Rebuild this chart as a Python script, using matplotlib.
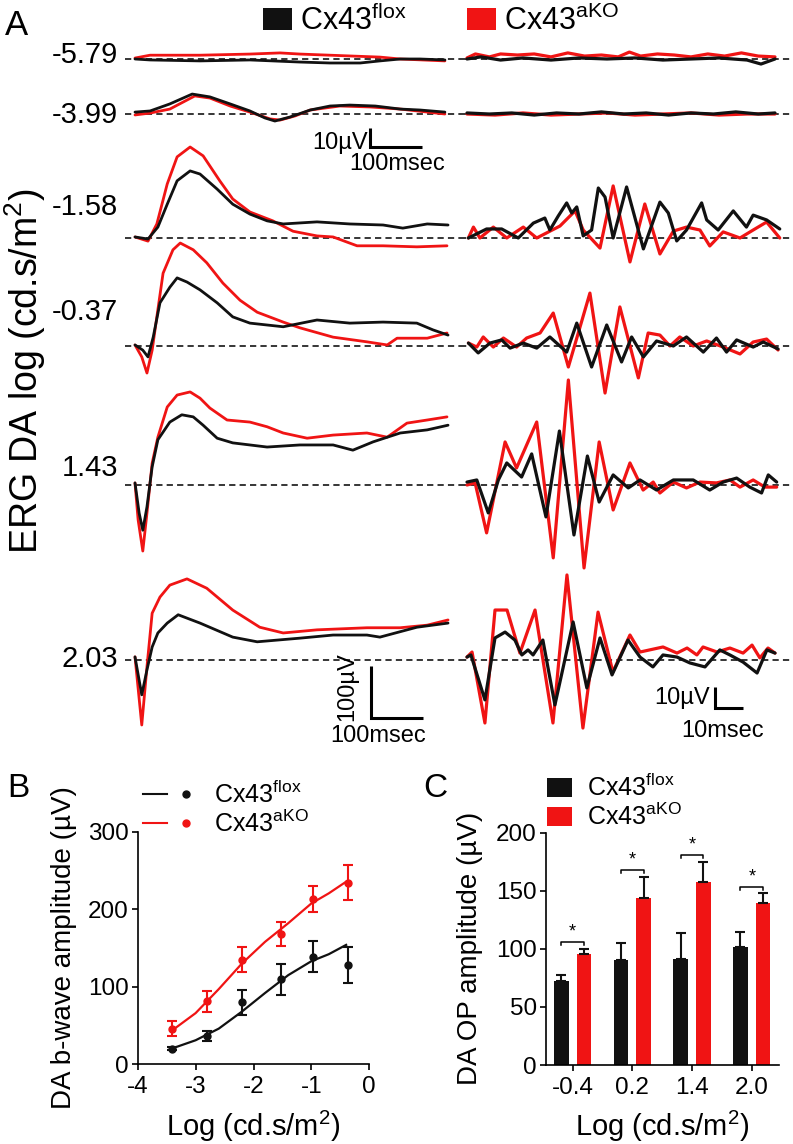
import matplotlib
matplotlib.use("Agg")
import matplotlib.pyplot as plt
from matplotlib.legend_handler import HandlerTuple
from matplotlib.lines import Line2D
from matplotlib.patches import Patch

plt.rcParams["font.family"] = ["Liberation Sans", "DejaVu Sans"]
plt.rcParams["mathtext.fontset"] = "custom"
plt.rcParams["mathtext.rm"] = "Liberation Sans"
plt.rcParams["mathtext.it"] = "Liberation Sans:italic"
plt.rcParams["mathtext.bf"] = "Liberation Sans:bold"
plt.rcParams["lines.scale_dashes"] = False
plt.rcParams["axes.unicode_minus"] = False

BLACK = "#111111"
RED = "#f01414"
FLOX_LABEL = r"Cx43$^{\mathrm{flox}}$"
KO_LABEL = r"Cx43$^{\mathrm{aKO}}$"

# ---- panel A: ERG traces, (time ms, amplitude uV) ----
ROW_LABELS = ["-5.79", "-3.99", "-1.58", "-0.37", "1.43", "2.03"]

# left column: full ERG response (a/b-wave)
L1_FLOX = [(0, 0), (29, -0.5), (125, -1), (221, -0.5), (317, -1.6), (375, -2.1), (433, -2.1),
           (471, -1), (510, 0), (548, 0), (596, -0.5)]
L1_KO = [(0, 0.5), (29, 2), (125, 2), (221, 2.6), (279, 3.2), (317, 2.6), (375, 2), (471, 1),
         (510, 0), (596, -1)]
L2_FLOX = [(0, 1), (29, 1.6), (67, 5.3), (110, 10.5), (144, 9), (183, 5.3), (221, 1.6), (250, -2.1),
           (269, -3.7), (298, -1.6), (337, 2.1), (375, 4.2), (413, 4.7), (462, 4.2), (510, 2.6),
           (548, 2.1), (596, 1)]
L2_KO = [(0, -0.5), (29, 0.5), (67, 2.6), (115, 9.5), (144, 8.4), (183, 4.2), (221, 1), (260, -2.6),
         (279, -3.2), (308, -1), (337, 2.1), (394, 4.2), (452, 3.7), (510, 2.6), (596, 0)]
L3_FLOX = [(0, 2), (25, -2), (44, 21), (62, 65), (81, 110), (106, 129), (125, 123), (158, 94),
           (188, 65), (221, 46), (254, 33), (285, 27), (350, 31), (413, 27), (477, 25), (515, 19),
           (562, 27), (602, 25)]
L3_KO = [(0, 2), (25, -6), (42, 27), (62, 104), (81, 156), (106, 175), (131, 158), (163, 110),
         (188, 75), (221, 50), (265, 33), (304, 13), (350, 4), (381, 2), (427, -15), (477, -15),
         (542, -17), (600, -15)]
L4_FLOX = [(0, 2), (15, -8), (25, -21), (35, 17), (48, 83), (67, 113), (81, 131), (100, 123),
           (125, 108), (158, 83), (188, 56), (221, 44), (285, 37), (350, 50), (413, 44), (477, 46),
           (542, 44), (573, 31), (602, 21)]
L4_KO = [(0, 2), (13, -21), (23, -52), (33, -8), (42, 56), (54, 140), (73, 185), (87, 198),
         (112, 185), (138, 160), (169, 121), (202, 88), (235, 65), (285, 46), (317, 35), (381, 17),
         (446, 8), (485, 2), (504, 15), (562, 15), (600, 25)]
L5_FLOX = [(0, 4), (8, -54), (15, -87), (23, -42), (33, 35), (44, 87), (67, 121), (90, 135),
           (112, 131), (131, 115), (158, 90), (188, 81), (254, 73), (317, 77), (381, 77), (419, 67),
           (458, 83), (510, 100), (562, 106), (602, 115)]
L5_KO = [(0, 4), (6, -67), (15, -127), (23, -54), (33, 42), (44, 92), (62, 150), (81, 173),
         (106, 179), (125, 167), (144, 148), (177, 125), (221, 121), (254, 112), (285, 100),
         (331, 90), (381, 96), (446, 100), (485, 92), (523, 119), (562, 125), (600, 131)]
L6_FLOX = [(0, 6), (13, -67), (23, -19), (33, 25), (44, 52), (62, 71), (83, 87), (125, 71),
           (188, 44), (235, 35), (317, 42), (381, 48), (446, 48), (471, 44), (542, 63), (602, 71)]
L6_KO = [(0, 6), (13, -125), (23, -13), (33, 90), (48, 121), (67, 144), (100, 156), (138, 138),
         (188, 96), (240, 63), (285, 52), (350, 58), (446, 62), (510, 62), (562, 67), (602, 77)]

# right column: oscillatory potentials
R1_FLOX = [(0, 0), (5, 1), (12, -0.5), (20, 0.5), (30, -0.5), (40, 0.5), (50, 0), (60, 0.5),
           (70, -0.5), (80, 0), (90, 0.5), (100, -0.5), (105, -2.4), (110, 0)]
R1_KO = [(0, 0.5), (3, 2.4), (8, 1), (12, 2.4), (18, 1.9), (24, 2.4), (30, 1), (36, 2.9), (42, 1.4),
         (48, 1.9), (54, 1), (58, 3.3), (62, 1.4), (68, 2.4), (74, 1.9), (80, 1), (86, 2.4),
         (92, 1.4), (98, 2.9), (104, 1.4), (110, 1)]
R2_FLOX = [(0, 0.5), (8, 0), (16, 0.5), (24, -0.5), (32, 0.5), (40, 0), (48, 1), (56, 0), (64, 0.5),
           (72, -0.5), (80, 0.5), (88, 0), (96, 1), (104, 0), (110, 0.5)]
R2_KO = [(0, 0), (10, -0.5), (20, 0.5), (30, -0.5), (40, 0), (50, 0.5), (60, -0.5), (70, 0),
         (80, 0.5), (90, -0.5), (100, 0), (110, 0)]
R3_FLOX = [(0.5, 0), (7.0, 4.3), (12.4, 4.3), (18.3, 0), (23.7, 7.1), (27.8, 9.5), (29.6, 3.8),
           (32.6, 10.5), (35.6, 16.7), (37.4, 11.9), (39.2, 14.8), (41.5, 1), (44.5, 3.8),
           (46.9, 23.8), (49.3, 19.5), (52.2, 0), (57.0, 24.3), (63.0, -5.2), (68.9, 17.1),
           (71.9, 11.9), (74.9, -1.4), (78.4, 3.8), (83.8, 16.7), (85.6, 8.6), (89.7, 3.8),
           (95.1, 12.9), (99.8, 5.2), (102.2, 10.9), (107.0, 8.6), (111.7, 4.3)]
R3_KO = [(0.5, 0), (2.3, 5.2), (4.6, 0), (9.4, 5.2), (14.2, 0), (20.1, 5.2), (24.9, 0), (33.2, 5.7),
         (38.6, 12.9), (41.5, 3.8), (47.5, -4.8), (52.2, 24.8), (58.2, -11.4), (63.5, 16.2),
         (68.9, -7.6), (73.7, 3.3), (78.4, 5.2), (83.2, 3.8), (86.7, -3.8), (91.5, 2.9), (97.5, 0),
         (102.2, 3.8), (107.0, 7.6), (111.7, 0)]
R4_FLOX = [(0.5, 1.4), (4.0, -3.3), (8.2, 1.4), (12.4, 2.9), (15.4, -1), (20.1, 1.4), (24.9, -1),
           (29.6, 4.3), (35.6, -2.9), (39.2, 10.9), (44.5, -10), (49.9, 10), (55.2, -7.6),
           (58.8, 4.3), (63.0, -5.2), (67.7, 2.4), (73.7, 0), (78.4, 4.3), (84.4, -2.9), (89.1, 3.8),
           (92.7, -2.9), (96.3, 2.9), (102.2, -0.5), (105.8, 1.9), (111.1, -1.4)]
R4_KO = [(0.5, 1.4), (3.5, -0.5), (5.8, 4.3), (9.4, -0.5), (13.0, 3.8), (17.7, -0.5), (21.3, 3.8),
         (26.1, 6.2), (30.8, 15.7), (36.2, -10), (43.9, 25.2), (49.3, -22.4), (54.6, 18.6),
         (61.2, -15.2), (64.7, 6.2), (68.9, 5.2), (72.5, 0), (76.0, 4.3), (80.8, 0), (85.6, 2.4),
         (91.5, -0.5), (97.5, -3.8), (102.2, 1.9), (107.0, 3.3), (111.1, -1.9)]
R5_FLOX = [(0, 1.4), (3.5, 2.4), (7.6, -13.3), (11.2, 2.4), (14.2, 10.5), (19.5, 3.8), (23.1, 14.8),
           (28.2, -15.2), (33.0, 25.7), (38.2, -23.8), (43.0, 13.8), (47.2, -8.1), (52.2, 4.8),
           (57.6, -1.4), (61.8, 2.4), (67.7, -2.4), (73.7, 2.4), (80.8, 2.4), (86.7, -2.4),
           (91.5, 1.4), (96.3, 3.3), (101.0, -1), (105.2, -3.8), (107.6, 4.8), (110.6, 1.4)]
R5_KO = [(0, 0), (2.9, 1), (7.0, -22.8), (13.6, 20.5), (17.7, 8.1), (24.9, 30), (30.8, -34.7),
         (36.2, 50), (41.8, -39.5), (47.2, 20.5), (52.2, -11.9), (58.2, 10.5), (62.9, -2.4),
         (66.5, 1.4), (68.9, -3.8), (73.7, 1.4), (78.4, -1.4), (83.2, 1.4), (89.1, 1), (93.9, 2.4),
         (97.5, -1), (102.2, 2.4), (106.4, -1), (110.6, -1)]
R6_FLOX = [(0, 1.4), (1.4, 2.4), (6.4, -19), (10, 10.5), (13.6, 13.3), (17.1, 9.5), (19.6, 2.4),
           (21.8, 4.8), (23.6, 2.4), (27.1, 9.5), (31.4, -21.4), (37.9, 18.1), (42.8, -13.3),
           (47.5, 10.5), (51.8, -7.1), (57.5, 9.5), (61.8, 1.4), (66.4, -3.3), (70, 2.4), (75, 1.4),
           (79.6, -1.4), (85, -3.3), (90.3, 4.8), (93.9, 2.4), (98.6, -1), (103.6, -6.2),
           (107.1, 4.8), (110, 3.3)]
R6_KO = [(0, 1.4), (1.8, 3.8), (6.4, -30), (10, 23.8), (14.3, 23.8), (18.9, 3.3), (24.3, 23.8),
         (30.7, -30), (35.7, 40.5), (41.4, -32.4), (46.8, 22.8), (52.1, -5.7), (58.2, 11.9),
         (61.8, 3.8), (70, 6.2), (75, 3.3), (78.6, 5.7), (82.1, 2.4), (84.3, 6.2), (89.3, 3.8),
         (93.9, 5.7), (98.6, 3.3), (101.8, 7.1), (104.6, 1), (107.5, 5.7), (110, 3.3)]

LEFT_TRACES = [(L1_FLOX, L1_KO), (L2_FLOX, L2_KO), (L3_FLOX, L3_KO),
               (L4_FLOX, L4_KO), (L5_FLOX, L5_KO), (L6_FLOX, L6_KO)]
RIGHT_TRACES = [(R1_FLOX, R1_KO), (R2_FLOX, R2_KO), (R3_FLOX, R3_KO),
                (R4_FLOX, R4_KO), (R5_FLOX, R5_KO), (R6_FLOX, R6_KO)]

# ---- panel B: b-wave intensity response ----
B_X = [-3.4, -2.8, -2.2, -1.52, -0.98, -0.37]
B_FLOX = [20, 36.5, 80, 110, 139, 128]
B_FLOX_ERR = [2, 7, 16, 20, 19.5, 23.5]
B_KO = [46, 81, 135, 168, 213, 234]
B_KO_ERR = [10, 13.5, 16, 15, 17, 22.5]
B_FIT_X = [-3.4, -3.0, -2.6, -2.2, -1.8, -1.4, -1.0, -0.7, -0.4]
B_FIT_FLOX = [20.6, 31, 46, 68, 92, 115, 133, 142, 154]
B_FIT_KO = [44, 66, 97, 130, 158, 182, 207.5, 220.5, 235.5]

# ---- panel C: OP amplitude ----
C_LABELS = ["-0.4", "0.2", "1.4", "2.0"]
C_FLOX = [72.6, 90.4, 91, 101.9]
C_FLOX_ERR = [4.6, 14.3, 22.3, 12.9]
C_KO = [95.3, 144, 157.8, 139.2]
C_KO_ERR = [4.3, 18.1, 17.2, 8.6]
C_SIG_Y = [106, 168, 181, 153.5]

# ---- layout (pixels of the 793 x 1144 figure) ----
W, H = 793, 1144
ROW_BASE = [59, 114, 238, 346, 485, 660]
ROW_LABEL_BASELINE = [63, 123, 215, 320, 476, 667]
LEFT_GAIN = [1.9, 1.9, 0.52, 0.52, 0.52, 0.52]   # px per uV
RIGHT_GAIN = 2.1
LEFT_MS, RIGHT_MS = 0.52, 2.8                   # px per ms
LEFT_T0, RIGHT_T0 = 135, 467

fig = plt.figure(figsize=(W / 100, H / 100), dpi=100)


def px_axes(x0, x1, y0, y1):
    return fig.add_axes([x0 / W, 1 - y1 / H, (x1 - x0) / W, (y1 - y0) / H])


def trace_axes(x0, x1, t0, ms_px, base, gain):
    ax = px_axes(x0, x1, base - 150, base + 150)
    ax.set_xlim((x0 - t0) / ms_px, (x1 - t0) / ms_px)
    ax.set_ylim(-150 / gain, 150 / gain)
    ax.axis("off")
    ax.axhline(0, color="k", lw=1.1, ls=(0, (4.5, 3)), zorder=1)
    return ax


def draw_pair(ax, flox, ko, lw):
    for trace, color in ((ko, RED), (flox, BLACK)):
        t = [p[0] for p in trace]
        v = [p[1] for p in trace]
        ax.plot(t, v, color=color, lw=lw, solid_joinstyle="round", solid_capstyle="round",
                zorder=3)


left_axes, right_axes = [], []
for i, base in enumerate(ROW_BASE):
    axl = trace_axes(125, 460, LEFT_T0, LEFT_MS, base, LEFT_GAIN[i])
    draw_pair(axl, *LEFT_TRACES[i], lw=2.0)
    axr = trace_axes(460, 793, RIGHT_T0, RIGHT_MS, base, RIGHT_GAIN)
    draw_pair(axr, *RIGHT_TRACES[i], lw=2.3)
    left_axes.append(axl)
    right_axes.append(axr)
    fig.text(118 / W, 1 - ROW_LABEL_BASELINE[i] / H, ROW_LABELS[i], ha="right",
             va="baseline", fontsize=21)

SB = dict(color="k", lw=2.2, solid_capstyle="butt", solid_joinstyle="miter")
# 10 uV / 100 ms bar for the two dim rows
ax = left_axes[1]
ax.plot([452, 452, 552], [-7.4, -17.4, -17.4], **SB)
ax.text(448, -15.3, "10µV", ha="right", va="center", fontsize=17)
ax.text(504, -26.5, "100msec", ha="center", va="center", fontsize=17)
# 100 uV / 100 ms bar
ax = left_axes[5]
ax.plot([454, 454, 554], [-11.5, -111.5, -111.5], **SB)
ax.text(408, -52, "100µV", ha="center", va="center", rotation=90, fontsize=17)
ax.text(467, -146, "100msec", ha="center", va="center", fontsize=17)
# 10 uV / 10 ms bar for the OPs
ax = right_axes[5]
ax.plot([88.6, 88.6, 98.6], [-12.9, -22.9, -22.9], **SB)
ax.text(86.8, -18, "10µV", ha="right", va="center", fontsize=17)
ax.text(91.4, -34, "10msec", ha="center", va="center", fontsize=17)

fig.text(25 / W, 1 - 371 / H, "ERG DA log (cd.s/m$^2$)", rotation=90, ha="center",
         va="center", fontsize=27)
fig.legend(handles=[Patch(facecolor=BLACK), Patch(facecolor=RED)],
           labels=[FLOX_LABEL, KO_LABEL], loc="upper left",
           bbox_to_anchor=(263 / W, 1 - 5 / H), ncol=2, frameon=False, fontsize=22,
           handlelength=0.95, handleheight=0.72, handletextpad=0.25, columnspacing=2.0,
           borderpad=0, borderaxespad=0)

fig.text(5 / W, 1 - 35 / H, "A", fontsize=25, va="baseline")
fig.text(7 / W, 1 - 797 / H, "B", fontsize=24, va="baseline")
fig.text(423 / W, 1 - 797 / H, "C", fontsize=24, va="baseline")


def style_axes(ax):
    for side in ("top", "right"):
        ax.spines[side].set_visible(False)
    for side in ("left", "bottom"):
        ax.spines[side].set_linewidth(1.2)
    ax.tick_params(direction="out", length=4.5, width=1.2, labelsize=17.5)
    ax.tick_params(axis="x", pad=4)
    ax.tick_params(axis="y", pad=2)


# ---- panel B ----
axB = px_axes(137.7, 369.3, 831.7, 1064.3)
axB.plot(B_FIT_X, B_FIT_FLOX, color=BLACK, lw=1.6, solid_joinstyle="round")
axB.plot(B_FIT_X, B_FIT_KO, color=RED, lw=1.6, solid_joinstyle="round")
err_kw = dict(fmt="o", ms=5, capsize=3.5, elinewidth=1.5, capthick=1.5, clip_on=False)
axB.errorbar(B_X, B_FLOX, yerr=B_FLOX_ERR, color=BLACK, **err_kw)
axB.errorbar(B_X, B_KO, yerr=B_KO_ERR, color=RED, **err_kw)
axB.set_xlim(-4, 0)
axB.set_ylim(0, 300)
axB.set_xticks([-4, -3, -2, -1, 0])
axB.set_yticks([0, 100, 200, 300])
style_axes(axB)
axB.set_xlabel("Log (cd.s/m$^2$)", fontsize=21)
axB.xaxis.set_label_coords(0.5, -0.19)
axB.set_ylabel("DA b-wave amplitude (µV)", fontsize=20)
axB.yaxis.set_label_coords(-0.26, 0.5)
leg_line = lambda c: (Line2D([], [], color=c, lw=1.5),
                      Line2D([], [], color=c, marker="o", ms=5, ls="none"))
fig.legend(handles=[leg_line(BLACK), leg_line(RED)], labels=[FLOX_LABEL, KO_LABEL],
           handler_map={tuple: HandlerTuple(ndivide=None, pad=0.3)},
           loc="upper left", bbox_to_anchor=(143 / W, 1 - 781 / H), frameon=False,
           fontsize=18, handlelength=2.2, handletextpad=0.64, labelspacing=0.1,
           borderpad=0, borderaxespad=0)

# ---- panel C ----
axC = px_axes(546, 779.3, 832.7, 1065)
pos = list(range(len(C_LABELS)))
bw, off = 0.245, 0.19
axC.bar([p - off for p in pos], C_FLOX, bw, color=BLACK)
axC.bar([p + off for p in pos], C_KO, bw, color=RED)
axC.errorbar([p - off for p in pos], C_FLOX, yerr=[[0] * 4, C_FLOX_ERR], fmt="none",
             ecolor=BLACK, elinewidth=1.5, capsize=3.5, capthick=1.5)
axC.errorbar([p + off for p in pos], C_KO, yerr=[[0] * 4, C_KO_ERR], fmt="none",
             ecolor=BLACK, elinewidth=1.5, capsize=3.5, capthick=1.5)
for p, y in zip(pos, C_SIG_Y):
    axC.plot([p - off, p - off, p + off, p + off], [y - 3, y, y, y - 3], color="k", lw=1.1)
    axC.text(p, y + 1, "*", ha="center", va="bottom", fontsize=13)
axC.set_xlim(-0.447, 3.46)
axC.set_ylim(0, 200)
axC.set_xticks(pos)
axC.set_xticklabels(C_LABELS)
axC.set_yticks([0, 50, 100, 150, 200])
style_axes(axC)
axC.set_xlabel("Log (cd.s/m$^2$)", fontsize=21)
axC.xaxis.set_label_coords(0.5, -0.19)
axC.set_ylabel("DA OP amplitude (µV)", fontsize=20)
axC.yaxis.set_label_coords(-0.27, 0.5)
fig.legend(handles=[Patch(facecolor=BLACK), Patch(facecolor=RED)],
           labels=[FLOX_LABEL, KO_LABEL], loc="upper left",
           bbox_to_anchor=(547 / W, 1 - 774 / H), frameon=False, fontsize=18,
           handlelength=1.0, handleheight=0.8, handletextpad=0.6, labelspacing=0.1,
           borderpad=0, borderaxespad=0)

fig.savefig("out.png", dpi=100)
